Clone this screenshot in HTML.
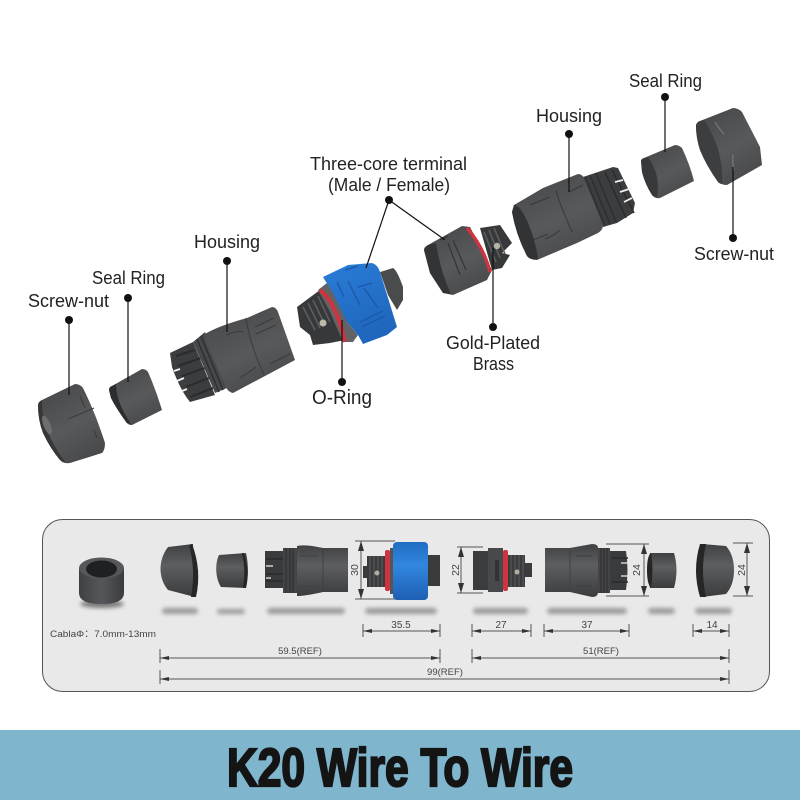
<!DOCTYPE html>
<html><head><meta charset="utf-8"><style>html,body{margin:0;padding:0;background:#fff}svg{display:block}text{font-family:"Liberation Sans","Noto Sans CJK SC",sans-serif}</style></head><body>
<svg width="800" height="800" viewBox="0 0 800 800" xmlns="http://www.w3.org/2000/svg">
<defs>
<linearGradient id="d1" x1="0.2" y1="0" x2="0.7" y2="1"><stop offset="0" stop-color="#47484a"/><stop offset=".55" stop-color="#58595b"/><stop offset="1" stop-color="#47484a"/></linearGradient>
<linearGradient id="d2" x1="0" y1="0" x2="0" y2="1"><stop offset="0" stop-color="#404143"/><stop offset=".4" stop-color="#5d5e60"/><stop offset="1" stop-color="#3b3c3e"/></linearGradient>
<linearGradient id="gh" x1="0" y1="0" x2="1" y2="0"><stop offset="0" stop-color="#3f4042"/><stop offset=".5" stop-color="#56575a"/><stop offset="1" stop-color="#3a3b3d"/></linearGradient>
<linearGradient id="b1" x1="0" y1="0" x2="0.4" y2="1"><stop offset="0" stop-color="#2a7dd8"/><stop offset="1" stop-color="#1f66bd"/></linearGradient>
<linearGradient id="b2" x1="0" y1="0" x2="0" y2="1"><stop offset="0" stop-color="#1f6cc4"/><stop offset=".4" stop-color="#3287de"/><stop offset="1" stop-color="#1d5fb4"/></linearGradient>
<filter id="bl" x="-30%" y="-200%" width="160%" height="500%"><feGaussianBlur stdDeviation="2.2"/></filter>
</defs>
<rect width="800" height="800" fill="#fff"/>

<!-- left nut -->
<path d="M38,405 Q38,402 42,400 L75,384 Q80,384 83,388 Q95,412 105,443 Q105,450 102,453 L70,463 Q63,464 60,460 Q50,448 43,433 Q38,420 38,405Z" fill="url(#d1)"/>
<path d="M38,405 Q39,402 42,400 Q42,420 50,437 Q56,450 66,463 L60,460 Q50,448 43,433 Q38,420 38,405Z" fill="#363739"/>
<ellipse cx="47" cy="425" rx="3.500" ry="10" transform="rotate(-22 47 425)" fill="#6d6e70"/>
<path d="M68,419 L94,408 M80,396 L85,408 M94,430 L97,438" stroke="#3c3d3f" stroke-width="1.200" fill="none"/>
<!-- left seal -->
<path d="M109,390 Q109,387 112,386 L142,369 Q146,369 148,372 Q156,390 162,410 L132,425 Q128,425 126,422 Q116,408 111,398Z" fill="url(#d1)"/>
<path d="M109,390 Q109,387 112,386 L116,384 Q116,402 131,424 L127,423 Q116,408 111,398Z" fill="#2c2d2f"/>
<!-- left housing -->
<path d="M170,353 L193,342 L215,395 L190,402 Q180,390 172,367Z" fill="#3c3d3f"/>
<path d="M176,356 L195,350 M178,366 L201,358 M182,376 L205,368 M186,387 L209,378 M190,397 L213,388" stroke="#2a2b2d" stroke-width="2"/>
<path d="M174,371 L180,369 M177,381 L184,378 M182,391 L187,389" stroke="#f2f2f2" stroke-width="1.800"/>
<path d="M193,342 L205,332 L227,388 L215,393Z" fill="#48494b"/>
<path d="M197,339 L219,392 M201,336 L223,390" stroke="#2e2f31" stroke-width="1.500"/>
<path d="M205,334 Q218,326 247,318 L272,307 Q276,307 278,312 L295,360 L233,393 Q228,392 226,387 Q214,360 205,340Z" fill="url(#d1)"/>
<path d="M246,318 Q250,345 264,375 M226,335 Q238,330 243,332 M240,378 Q250,372 256,367 M270,364 L290,354 M255,327 L274,318 M256,334 L276,325" stroke="#3a3b3d" stroke-width="1" fill="none"/>

<!-- center -->
<path d="M380,272 L393,268 Q397,270 403,287 L403,300 L397,310 L388,295Z" fill="#4a4b4d"/>
<path d="M297,307 L320,290 L345,340 L330,343 L313,345 L310,335 L300,327Z" fill="#37383a"/>
<path d="M303,307 L315,330 M308,303 L320,328 M313,300 L325,325 M318,296 L330,322" stroke="#5c5d5f" stroke-width="1.600"/>
<circle cx="323" cy="323" r="3.500" fill="#bdb8aa"/>
<path d="M318,290 L327,283 L340,300 L347,322 L358,335 L353,342 L343,342 L330,312Z" fill="#626365"/>
<path d="M320,290 Q336,302 345,342" stroke="#cf3340" stroke-width="4" fill="none"/>
<path d="M323,277 L348,265 L372,263 Q378,265 380,272 L397,327 L387,335 L363,344 L358,335 L347,322 L333,293Z" fill="url(#b1)"/>
<path d="M337,282 L344,297 M348,281 L360,305 M358,287 L372,283 M364,288 L378,308 M360,322 L383,311 M362,327 L385,316 M345,270 L358,266" stroke="#1a56a6" stroke-width="1.200" fill="none"/>

<!-- right terminal -->
<path d="M480,228 L500,225 L512,243 L502,253 L510,255 L502,268 L492,270Z" fill="#37383a"/>
<path d="M484,232 L496,262 M489,230 L500,258 M494,228 L505,254" stroke="#5c5d5f" stroke-width="1.600"/>
<circle cx="497" cy="246" r="3.200" fill="#b5b2a6"/>
<path d="M424,250 Q424,247 428,245 L462,226 L470,227 L492,270 L487,280 L453,295 L443,293 L430,273Z" fill="url(#d1)"/>
<path d="M424,250 Q425,247 428,245 L436,243 Q440,270 451,294 L443,293 L430,273Z" fill="#333436"/>
<path d="M467,228 Q484,248 490,272" stroke="#cf3340" stroke-width="3.500" fill="none"/>
<path d="M453,240 L466,270 M448,243 L460,275 M440,240 L448,236" stroke="#333436" stroke-width="1.200" fill="none"/>

<!-- right housing -->
<path d="M583,177 L613,167 L618,168 L635,203 L633,213 L617,223 L603,227Z" fill="#3c3d3f"/>
<path d="M605,172 L626,218 M612,170 L634,213" stroke="#2a2b2d" stroke-width="1.500"/>
<path d="M615,182 L623,180 M620,192 L632,188 M624,202 L632,198" stroke="#f2f2f2" stroke-width="1.800"/>
<path d="M585,177 L605,226 M590,175 L610,224 M596,173 L616,222" stroke="#2e2f31" stroke-width="1.500"/>
<path d="M514,205 L543,188 L578,174 Q582,174 584,178 L603,225 Q603,230 598,233 L577,243 L537,260 Q530,260 527,256 Q516,235 512,212Z" fill="url(#d1)"/>
<path d="M514,205 Q520,205 528,223 Q536,242 538,259 Q530,260 527,256 Q516,235 512,212Z" fill="#323335"/>
<path d="M556,190 Q558,200 572,232 M545,239 Q555,235 560,230 M530,205 L550,197 M533,240 L548,234 M569,192 L583,185" stroke="#38393b" stroke-width="1" fill="none"/>
<!-- right seal -->
<path d="M641,161 Q641,159 644,158 L675,145 Q679,145 682,148 Q690,165 694,181 L660,198 Q655,199 652,195 Q645,184 642,172Z" fill="url(#d1)"/>
<path d="M641,161 Q641,159 644,158 L648,157 Q661,175 657,197 Q654,197 652,195 Q645,184 642,172Z" fill="#38393b"/>
<!-- right nut -->
<path d="M696,125 Q697,122 700,121 L733,108 Q738,108 742,112 L760,147 L762,165 L727,185 Q722,185 718,182 Q706,165 700,150 Q696,138 696,125Z" fill="url(#d1)"/>
<path d="M696,125 Q697,122 700,121 L704,120 Q724,150 722,184 Q720,184 718,182 Q706,165 700,150 Q696,138 696,125Z" fill="#3d3e40"/>
<path d="M715,122 Q720,130 724,134 M733,155 Q732,162 734,170" stroke="#707173" stroke-width="1.500" fill="none"/>

<!-- leaders -->
<g stroke="#111" stroke-width="1.200" fill="none">
<path d="M69,320V395M128,298V382M227,261V332M389,200L366,268M389,200L445,240M342,382V320M493,327V248M569,134V192M665,97V152M733,238V167"/>
</g>
<g fill="#111">
<circle cx="69" cy="320" r="4"/><circle cx="128" cy="298" r="4"/><circle cx="227" cy="261" r="4"/><circle cx="389" cy="200" r="4"/><circle cx="342" cy="382" r="4"/><circle cx="493" cy="327" r="4"/><circle cx="569" cy="134" r="4"/><circle cx="665" cy="97" r="4"/><circle cx="733" cy="238" r="4"/>
</g>
<g fill="#222" font-size="18">
<text x="28" y="307" textLength="81" lengthAdjust="spacingAndGlyphs">Screw-nut</text>
<text x="92" y="284" textLength="73" lengthAdjust="spacingAndGlyphs">Seal Ring</text>
<text x="194" y="248" textLength="66" lengthAdjust="spacingAndGlyphs">Housing</text>
<text x="310" y="170" textLength="157" lengthAdjust="spacingAndGlyphs">Three-core terminal</text>
<text x="328" y="191" textLength="122" lengthAdjust="spacingAndGlyphs">(Male / Female)</text>
<text x="312" y="404" font-size="20" textLength="60" lengthAdjust="spacingAndGlyphs">O-Ring</text>
<text x="446" y="349" textLength="94" lengthAdjust="spacingAndGlyphs">Gold-Plated</text>
<text x="473" y="370" textLength="41" lengthAdjust="spacingAndGlyphs">Brass</text>
<text x="536" y="122" textLength="66" lengthAdjust="spacingAndGlyphs">Housing</text>
<text x="629" y="87" textLength="73" lengthAdjust="spacingAndGlyphs">Seal Ring</text>
<text x="694" y="260" textLength="80" lengthAdjust="spacingAndGlyphs">Screw-nut</text>
</g>

<!-- panel -->
<rect x="42.500" y="519.500" width="727" height="172" rx="20" fill="#e9e9e9" stroke="#555" stroke-width="1"/>
<g fill="#9a9a9a" filter="url(#bl)">
<ellipse cx="102" cy="604" rx="22" ry="4" fill="#777"/>
<rect x="162" y="608" width="36" height="6" rx="3"/><rect x="217" y="609" width="28" height="5" rx="2.500"/><rect x="267" y="608" width="78" height="6" rx="3"/><rect x="365" y="608" width="72" height="6" rx="3"/><rect x="473" y="608" width="55" height="6" rx="3"/><rect x="547" y="608" width="80" height="6" rx="3"/><rect x="648" y="608" width="27" height="6" rx="3"/><rect x="695" y="608" width="37" height="6" rx="3"/>
</g>
<!-- grommet -->
<path d="M79,568 V593 Q79,604 101.500,604 Q124,604 124,593 V568Z" fill="url(#gh)"/>
<ellipse cx="101.500" cy="568" rx="22.500" ry="10.500" fill="#56575a"/>
<ellipse cx="101.500" cy="569" rx="15.500" ry="8.500" fill="#1f2022"/>
<text x="50" y="637" font-size="9.500" fill="#444" textLength="106" lengthAdjust="spacingAndGlyphs">CablaΦ：7.0mm-13mm</text>

<!-- side parts -->
<path d="M168,547 L193,544 L195,597 L168,590 C158,578 158,560 168,547Z" fill="url(#d2)"/>
<path d="M192,544 Q202,570 196,597 L191,597 Q196,570 189,545Z" fill="#252628"/>
<path d="M219,555 L246,553 Q250,570 246,588 L221,587 C215,578 215,563 219,555Z" fill="url(#d2)"/>
<path d="M244,553 Q250,570 246,588 L243,588 Q246,570 242,553Z" fill="#252628"/>
<rect x="265" y="551" width="18" height="37" fill="#3a3b3d"/><path d="M266,559H283M266,574H283M266,581H283" stroke="#2a2b2d" stroke-width="1.500"/><path d="M266,566H273M266,578H271" stroke="#eee" stroke-width="1.200"/>
<rect x="283" y="548" width="14" height="45" fill="#434446"/><path d="M286,548V593M290,548V593M293,548V593" stroke="#2c2d2f"/>
<path d="M297,546 Q305,544 323,548 L348,548 V592 L323,592 Q305,596 297,596Z" fill="url(#d2)"/><path d="M323,548V592M300,556H318M300,586H318" stroke="#3f4042"/>

<rect x="363" y="566" width="5" height="12" fill="#3a3b3d"/>
<rect x="367" y="556" width="18" height="31" fill="#3a3b3d"/><path d="M370,556V587M374,556V587M378,556V587M382,556V587" stroke="#5c5d5f"/><circle cx="377" cy="573" r="2.500" fill="#b3ada0"/>
<rect x="385" y="550" width="5" height="41" rx="2" fill="#cf3340"/><rect x="390" y="548" width="4" height="46" fill="#555"/>
<rect x="393" y="542" width="35" height="58" rx="4" fill="url(#b2)"/>
<rect x="428" y="555" width="12" height="31" fill="#3a3b3d"/>

<rect x="473" y="551" width="15" height="39" fill="#3b3c3e"/><rect x="488" y="548" width="15" height="44" fill="#48494b"/>
<rect x="495" y="560" width="4" height="21" fill="#333"/>
<rect x="503" y="550" width="5" height="41" rx="2" fill="#cf3340"/>
<rect x="508" y="555" width="17" height="32" fill="#3a3b3d"/><path d="M511,555V587M515,555V587M519,555V587M523,555V587" stroke="#5c5d5f"/>
<rect x="525" y="563" width="7" height="14" fill="#3a3b3d"/><circle cx="517" cy="572" r="2.500" fill="#b3ada0"/>

<path d="M545,548 H570 L592,544 Q598,544 598,548 V592 Q598,597 592,597 L570,592 H545Z" fill="url(#d2)"/><path d="M570,548V592M576,556H592M576,586H592" stroke="#3f4042"/>
<rect x="598" y="548" width="12" height="45" fill="#434446"/><path d="M601,548V593M604,548V593M607,548V593" stroke="#2c2d2f"/>
<path d="M610,551 H626 Q629,570 626,590 H610Z" fill="#3a3b3d"/><path d="M612,558H628M612,582H628" stroke="#2a2b2d" stroke-width="1.500"/><path d="M621,563H628M621,576H628" stroke="#eee" stroke-width="1.200"/>
<path d="M650,553 L674,553 Q679,570 674,588 L650,588 Q647,570 650,553Z" fill="url(#d2)"/>
<path d="M647,570 Q647,556 651,553 Q654,570 651,588 Q647,584 647,570Z" fill="#252628"/>
<path d="M702,544 L726,546 Q734,555 734,570 Q734,585 726,594 L702,597Z" fill="url(#d2)"/><path d="M700,544 Q692,570 700,597 L706,597 Q700,570 706,544Z" fill="#252628"/>

<!-- dims -->
<g stroke="#555" stroke-width="1" fill="none">
<path d="M355,541H395M355,599H395M361,541V599M457,547H483M457,593H483M461,547V593M606,544H649M606,596H649M644,544V596M733,543H753M733,596H753M747,543V596"/>
<path d="M363,624V637M440,624V637M363,631H440M472,624V637M531,624V637M472,631H531M544,624V637M629,624V637M544,631H629M693,624V637M729,624V637M693,631H729M160,649V663M440,649V663M160,658H440M472,649V663M729,649V663M472,658H729M160,670V684M729,670V684M160,679H729"/>
</g>
<g fill="#333">
<path d="M361,541l-3,10h6zM361,599l-3,-10h6zM461,547l-3,10h6zM461,593l-3,-10h6zM644,544l-3,10h6zM644,596l-3,-10h6zM747,543l-3,10h6zM747,596l-3,-10h6z"/>
<path d="M363,631l9,-2v4zM440,631l-9,-2v4zM472,631l9,-2v4zM531,631l-9,-2v4zM544,631l9,-2v4zM629,631l-9,-2v4zM693,631l9,-2v4zM729,631l-9,-2v4zM160,658l9,-2v4zM440,658l-9,-2v4zM472,658l9,-2v4zM729,658l-9,-2v4zM160,679l9,-2v4zM729,679l-9,-2v4z"/>
</g>
<g fill="#444" font-size="10" text-anchor="middle">
<text x="401" y="628">35.5</text><text x="501" y="628">27</text><text x="587" y="628">37</text><text x="712" y="628">14</text>
<text x="300" y="654" font-size="9.500">59.5(REF)</text><text x="601" y="654" font-size="9.500">51(REF)</text><text x="445" y="675" font-size="9.500">99(REF)</text>
<text transform="translate(358,570) rotate(-90)" font-size="10.500">30</text>
<text transform="translate(459,570) rotate(-90)" font-size="10.500">22</text>
<text transform="translate(640,570) rotate(-90)" font-size="10.500">24</text>
<text transform="translate(745,570) rotate(-90)" font-size="10.500">24</text>
</g>

<!-- banner -->
<rect x="0" y="730" width="800" height="70" fill="#7fb6cd"/>
<text x="227" y="786" font-size="54" font-weight="700" fill="#141414" stroke="#141414" stroke-width="2.200" textLength="346" lengthAdjust="spacingAndGlyphs">K20 Wire To Wire</text>
</svg>
</body></html>
